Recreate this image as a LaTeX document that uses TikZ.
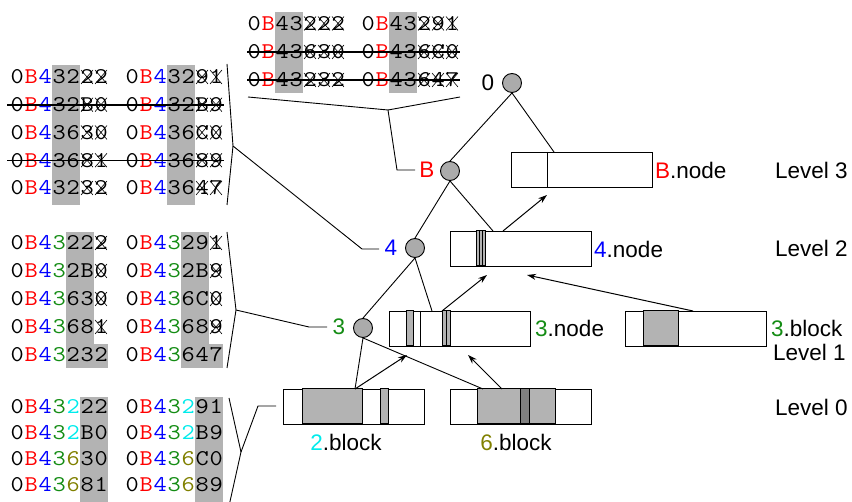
\documentclass[tikz,border=0pt]{standalone}
\usepackage{fontspec}
\usepackage{graphicx}
\setmainfont{Liberation Sans}
\usetikzlibrary{calc,arrows.meta}
\definecolor{cgreen}{RGB}{20,140,20}
\definecolor{ccyan}{RGB}{0,235,235}
\definecolor{colive}{RGB}{128,128,0}
\definecolor{hlgray}{RGB}{179,179,179}
\definecolor{dkgray}{RGB}{128,128,128}
\newcommand\cB{\textcolor{red}{B}}
\newcommand\cF{\textcolor{blue}{4}}
\newcommand\cT{\textcolor{cgreen}{3}}
\newcommand\cTw{\textcolor{ccyan}{2}}
\newcommand\cSx{\textcolor{colive}{6}}
\makeatletter
\def\mono#1{\mono@loop#1\relax}
\def\mono@loop#1{\ifx\relax#1\else\makebox[14pt][c]{\scalebox{1.14}[1]{#1}}\expandafter\mono@loop\fi}
\makeatother
\begin{document}
\begin{tikzpicture}[x=1pt,y=-1pt,
  code/.style={font={\ttfamily\fontsize{22.5}{22.5}\selectfont}, anchor=base west, inner sep=0pt},
  lab/.style={font={\fontsize{22.5}{22.5}\selectfont}, inner sep=0pt},
  membox/.style={draw, line width=1.2pt, fill=white, minimum width=141pt, minimum height=35pt, inner sep=0pt, anchor=north west},
  stripe/.style={draw, line width=1pt},
  circ/.style={circle, draw, fill=black!33, minimum size=19pt, inner sep=0pt, line width=0.9pt},
  tree/.style={line width=0.9pt},
  arr/.style={-{Stealth[length=9pt,width=6pt]}, line width=1pt},
  xline/.style={line width=0.6pt},
  strike/.style={line width=1.2pt}]
\useasboundingbox (0,0) rectangle (852,502);
\newcommand\xmark[2]{\draw[xline] (#1+1,#2) -- ++(12,-14) (#1+13,#2) -- ++(-12,-14);}
% ---------- gray columns ----------
\fill[hlgray] (275,12) rectangle (303,93);
\fill[hlgray] (389,12) rectangle (417,93);
\fill[hlgray] (52,65) rectangle (80,205);
\fill[hlgray] (167,65) rectangle (195,205);
\fill[hlgray] (66,232) rectangle (94,368);
\fill[hlgray] (94,344) rectangle (108,368);
\fill[hlgray] (181,232) rectangle (209,368);
\fill[hlgray] (209,344) rectangle (223,368);
\fill[hlgray] (80,397) rectangle (108,502);
\fill[hlgray] (195,397) rectangle (223,502);
% ---------- top block ----------
\node[code] (ta1) at (247,30.5) {\mono{0\cB43222}};
\node[code] (tb1) at (361,30.5) {\mono{0\cB43291}};
\node[code] (ta2) at (247,59) {\mono{0\cB43630}};
\node[code] (tb2) at (361,59) {\mono{0\cB436C0}};
\node[code] (ta3) at (247,87) {\mono{0\cB43232}};
\node[code] (tb3) at (361,87) {\mono{0\cB43647}};
\foreach \b in {30.5,59,87}
  \foreach \c in {247,361}
    \foreach \i in {4,5,6} {\xmark{\c+\i*14}{\b}}
\draw[strike] (247,52) -- (460,52);
\draw[strike] (247,80) -- (460,80);
% ---------- block 1 ----------
\node[code] (pa1) at (10,84) {\mono{0\cB\cF3222}};
\node[code] (pb1) at (125,84) {\mono{0\cB\cF3291}};
\node[code] (pa2) at (10,111.75) {\mono{0\cB\cF32B0}};
\node[code] (pb2) at (125,111.75) {\mono{0\cB\cF32B9}};
\node[code] (pa3) at (10,139.5) {\mono{0\cB\cF3630}};
\node[code] (pb3) at (125,139.5) {\mono{0\cB\cF36C0}};
\node[code] (pa4) at (10,167.25) {\mono{0\cB\cF3681}};
\node[code] (pb4) at (125,167.25) {\mono{0\cB\cF3689}};
\node[code] (pa5) at (10,195) {\mono{0\cB\cF3232}};
\node[code] (pb5) at (125,195) {\mono{0\cB\cF3647}};
\foreach \b in {84,111.75,139.5,167.25,195}
  \foreach \c in {10,125}
    \foreach \i in {5,6} {\xmark{\c+\i*14}{\b}}
\draw[strike] (7,105) -- (224,105);
\draw[strike] (7,160.25) -- (224,160.25);
% ---------- block 2 ----------
\node[code] (qa1) at (10,250) {\mono{0\cB\cF\cT222}};
\node[code] (qb1) at (125,250) {\mono{0\cB\cF\cT291}};
\node[code] (qa2) at (10,278) {\mono{0\cB\cF\cT2B0}};
\node[code] (qb2) at (125,278) {\mono{0\cB\cF\cT2B9}};
\node[code] (qa3) at (10,306) {\mono{0\cB\cF\cT630}};
\node[code] (qb3) at (125,306) {\mono{0\cB\cF\cT6C0}};
\node[code] (qa4) at (10,334) {\mono{0\cB\cF\cT681}};
\node[code] (qb4) at (125,334) {\mono{0\cB\cF\cT689}};
\node[code] (qa5) at (10,362) {\mono{0\cB\cF\cT232}};
\node[code] (qb5) at (125,362) {\mono{0\cB\cF\cT647}};
\foreach \b in {250,278,306,334}
  \foreach \c in {10,125} {\xmark{\c+6*14}{\b}}
% ---------- block 3 ----------
\node[code] (ra1) at (10,414) {\mono{0\cB\cF\cT\cTw22}};
\node[code] (rb1) at (125,414) {\mono{0\cB\cF\cT\cTw91}};
\node[code] (ra2) at (10,440) {\mono{0\cB\cF\cT\cTw B0}};
\node[code] (rb2) at (125,440) {\mono{0\cB\cF\cT\cTw B9}};
\node[code] (ra3) at (10,466) {\mono{0\cB\cF\cT\cSx30}};
\node[code] (rb3) at (125,466) {\mono{0\cB\cF\cT\cSx C0}};
\node[code] (ra4) at (10,492) {\mono{0\cB\cF\cT\cSx81}};
\node[code] (rb4) at (125,492) {\mono{0\cB\cF\cT\cSx89}};
% ---------- brackets ----------
\coordinate (k0a) at (248,97); \coordinate (k0p) at (388,110); \coordinate (k0b) at (460,97);
\coordinate (k0m) at (397,170); \coordinate (k0e) at (415,170);
\draw[tree] (k0a) -- (k0p) -- (k0b);
\draw[tree] (k0p) -- (k0m) -- (k0e);
\coordinate (k1a) at (227,64); \coordinate (k1p) at (233,146); \coordinate (k1b) at (227,205);
\coordinate (k1m) at (362,249); \coordinate (k1e) at (379,249);
\draw[tree] (k1a) -- (k1p) -- (k1b);
\draw[tree] (k1p) -- (k1m) -- (k1e);
\coordinate (k2a) at (227,232); \coordinate (k2p) at (236,310); \coordinate (k2b) at (227,368);
\coordinate (k2m) at (309,327); \coordinate (k2e) at (327,327);
\draw[tree] (k2a) -- (k2p) -- (k2b);
\draw[tree] (k2p) -- (k2m) -- (k2e);
\coordinate (k3a) at (229,398); \coordinate (k3p) at (241,452); \coordinate (k3b) at (229,506);
\coordinate (k3m) at (258,406); \coordinate (k3e) at (276,406);
\draw[tree] (k3a) -- (k3p) -- (k3b);
\draw[tree] (k3p) -- (k3m) -- (k3e);
% ---------- tree ----------
\node[circ] (c0) at (512,83) {};
\node[circ] (cB) at (450,171) {};
\node[circ] (c4) at (415,248) {};
\node[circ] (c3) at (363,328) {};
\node[lab] (l0) at (488,83) {0};
\node[lab,text=red] (lB) at (427,170) {B};
\node[lab,text=blue] (l4) at (391,248) {4};
\node[lab,text=cgreen] (l3) at (339,327) {3};
% ---------- boxes ----------
\node[membox] (bn) at (511,152) {};
\draw[stripe] (547,152) -- (547,187);
\node[membox] (fn) at (450,231) {};
\draw[stripe,fill=hlgray] (476,231) rectangle (485,266);
\draw[stripe] (479,231) -- (479,266) (482,231) -- (482,266);
\node[membox] (tn) at (389,311) {};
\draw[stripe,fill=hlgray] (406,311) rectangle (413,346);
\draw[stripe] (420,311) -- (420,346);
\draw[stripe,fill=hlgray] (442,311) rectangle (450,346);
\draw[stripe] (446,311) -- (446,346);
\node[membox] (tb) at (625,311) {};
\draw[stripe,fill=hlgray] (643,311) rectangle (678,346);
\node[membox] (twb) at (283,389) {};
\draw[stripe,fill=hlgray] (302,389) rectangle (362,424);
\draw[stripe,fill=hlgray] (380,389) rectangle (388,424);
\node[membox] (sb) at (450,389) {};
\draw[stripe,fill=hlgray] (477,389) rectangle (555,424);
\draw[stripe,fill=dkgray] (520,389) rectangle (529,424);
% ---------- labels ----------
\node[lab,anchor=west] (bnl) at (655,170) {\textcolor{red}{B}.node};
\node[lab,anchor=west] (fnl) at (594,249) {\textcolor{blue}{4}.node};
\node[lab,anchor=west] (tnl) at (535,328) {\textcolor{cgreen}{3}.node};
\node[lab,anchor=west] (tbl) at (771,328) {\textcolor{cgreen}{3}.block};
\node[lab] (twl) at (346,442) {\textcolor{ccyan}{2}.block};
\node[lab] (sbl) at (516,442) {\textcolor{colive}{6}.block};
\node[lab,anchor=west] (lv3) at (775,170) {Level 3};
\node[lab,anchor=west] (lv2) at (775,248) {Level 2};
\node[lab,anchor=west] (lv1) at (773,352) {Level 1};
\node[lab,anchor=west] (lv0) at (775,407) {Level 0};
% ---------- connectors ----------
\coordinate (bnT) at (554,152);
\coordinate (fnT) at (493,231);
\coordinate (tnT) at (432,311);
\coordinate (twT) at (355,389);
\coordinate (sbT) at (483,389);
\draw[tree] (c0.south) -- (cB.north);
\draw[tree] (c0.south) -- (bnT);
\draw[tree] (cB.south) -- (c4.north);
\draw[tree] (cB.south) -- (fnT);
\draw[tree] (c4.south) -- (c3.north);
\draw[tree] (c4.south) -- (tnT);
\draw[tree] (c3.south) -- (twT);
\draw[tree] (c3.south) -- (sbT);
\coordinate (a1s) at (355,389); \coordinate (a1e) at (407,355);
\coordinate (a2s) at (502,389); \coordinate (a2e) at (468,355);
\coordinate (a3s) at (442,311); \coordinate (a3e) at (487,275);
\coordinate (a4s) at (693,311); \coordinate (a4e) at (527,275);
\coordinate (a5s) at (503,231); \coordinate (a5e) at (547,195);
\draw[arr] (a1s) -- (a1e);
\draw[arr] (a2s) -- (a2e);
\draw[arr] (a3s) -- (a3e);
\draw[arr] (a4s) -- (a4e);
\draw[arr] (a5s) -- (a5e);
\end{tikzpicture}
\end{document}
